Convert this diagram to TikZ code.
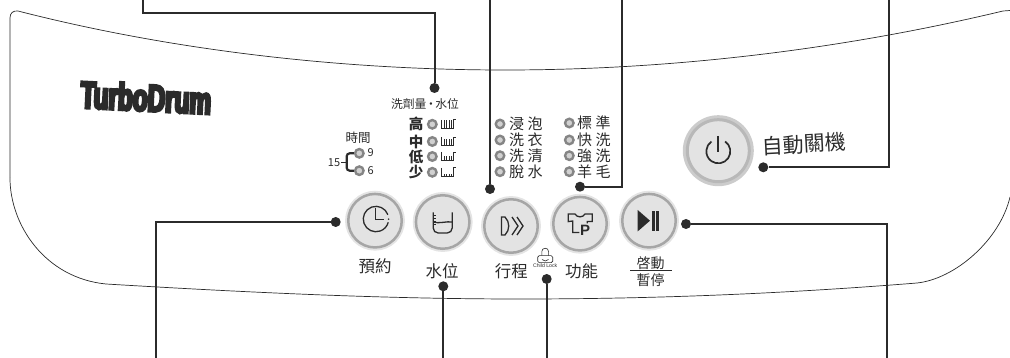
\documentclass[tikz,border=0pt]{standalone}
\usepackage{fontspec}
\usepackage{xcolor}
\usetikzlibrary{positioning}
\setmainfont{Noto Sans CJK TC}
\newfontfamily\logofont[FakeStretch=0.64,FakeBold=7]{Liberation Sans Bold}
\newfontfamily\latinfont{Liberation Sans}
\definecolor{inkgray}{HTML}{2B2B2B}
\definecolor{ringgray}{HTML}{A6A6A6}
\definecolor{glowgray}{HTML}{E4E4E4}
\definecolor{facegray}{HTML}{E3E3E3}
\newcommand{\fsz}[1]{\fontsize{#1}{#1}\selectfont}
\begin{document}
\begin{tikzpicture}[x=1pt,y=-1pt]

\tikzstyle{panel}=[draw=inkgray, line width=0.7pt]
\tikzstyle{lead}=[draw=inkgray, line width=2pt]
\tikzstyle{tipdot}=[circle, fill=inkgray, inner sep=0pt, minimum size=10pt]
\tikzstyle{btn}=[circle, inner sep=0pt, minimum size=53.5pt, outer sep=0pt, fill=facegray,
    draw=ringgray, line width=2.5pt, preaction={draw=glowgray, line width=6.4pt}]
\tikzstyle{btnpower}=[btn, minimum size=62pt, draw=black!28, line width=3pt,
    preaction={draw=black!20, line width=9pt}]
\tikzstyle{led}=[circle, inner sep=0pt, minimum size=8.5pt, draw=black!48, fill=black!18, line width=2.4pt]
\tikzstyle{icon}=[draw=inkgray, line width=1.3pt]
\tikzstyle{tiny}=[draw=inkgray, line width=0.6pt]
\tikzstyle{lab}=[inner sep=0pt, text=inkgray, font=\fsz{16.5}]
\tikzstyle{rowlab}=[inner sep=0pt, anchor=west, text=inkgray, font=\fsz{15}]

\useasboundingbox (0,0) rectangle (1010,358);

\draw[panel] (10,178) -- (10,18) .. controls (10,13) and (13,10.5) .. (18,11)
    .. controls (170,50) and (340,70) .. (505,70)
    .. controls (670,70) and (840,50) .. (1003,11) -- (1010,10.5);
\draw[panel] (1010,197) .. controls (1000,240) and (955,279) .. (917,283)
    .. controls (780,294) and (650,299) .. (520,299)
    .. controls (380,299) and (240,292) .. (106,284)
    .. controls (45,278) and (10,225) .. (10,178);

\node[anchor=center, rotate=-2.8, inner sep=0pt, text=inkgray, font=\logofont\fsz{38}] (logo) at (146,97.5) {TurboDrum};

% leader lines
\node[tipdot] (dotdeter) at (434.5,88) {};
\node[tipdot] (dotcourse) at (490,189) {};
\node[tipdot] (dotfunc) at (580,186.7) {};
\node[tipdot] (dotpower) at (763.3,167.3) {};
\node[tipdot] (dottimer) at (335.7,222) {};
\node[tipdot] (dotlevel) at (443.3,286.3) {};
\node[tipdot] (dotlock) at (546.7,279) {};
\node[tipdot] (dotstart) at (686,224) {};

\coordinate (turndeter) at (143,13);
\coordinate (enddeter) at (143,-2);
\coordinate (endcourse) at (490,-2);
\coordinate (endfunc) at (621.7,-2);
\coordinate (endpower) at (889.3,-2);
\coordinate (endtimer) at (156,360);
\coordinate (endlevel) at (443.3,360);
\coordinate (endlock) at (546.7,360);
\coordinate (endstart) at (887.3,360);

\draw[lead] (dotdeter) |- (turndeter) -- (enddeter);
\draw[lead] (dotcourse) -- (endcourse);
\draw[lead] (dotfunc) -| (endfunc);
\draw[lead] (dotpower) -| (endpower);
\draw[lead] (dottimer) -| (endtimer);
\draw[lead] (dotlevel) -- (endlevel);
\draw[lead] (dotlock) -- (endlock);
\draw[lead] (dotstart) -| (endstart);

% buttons
\node[btn] (timer) at (375,220.7) {};
\node[btn] (level) at (442.7,222) {};
\node[btn] (course) at (511,226) {};
\node[btn] (func) at (580,223.7) {};
\node[btn] (start) at (649,220.7) {};
\node[btnpower] (power) at (718.3,150.7) {};

\draw[icon,shift={(376,219)}] (11.9,-4.3) arc (-20:-345:12.7);
\draw[icon,shift={(376,219)}] (-0.5,-11) -- (-0.5,0.2) -- (8,0.2);
\fill[inkgray,shift={(376,219)}] (12.6,0.2) circle (0.9pt);

\draw[icon,rounded corners=5pt,shift={(442.7,222)}] (-9.5,-9.5) -- (-9.5,11) -- (9.5,11) -- (9.5,-9.5);
\draw[icon,shift={(442.7,222)}] (-9.5,0) .. controls (-4,2) and (4,-1) .. (9.5,0);
\foreach \ty in {-7,-4,-1,2} \draw[tiny,shift={(442.7,222)}] (-9.5,\ty) -- (-7,\ty);

\draw[icon,shift={(511,226)}] (-9.5,-9) -- (-6,-9) .. controls (-1,-4) and (-1,4) .. (-6,9) -- (-9.5,9) -- cycle;
\draw[icon,shift={(511,226)}] (1,-9) -- (7,0) -- (1,9);
\draw[icon,shift={(511,226)}] (6,-9) -- (12,0) -- (6,9);

\draw[icon,shift={(580,224.3)}] (-0.7,8.3) -- (-7.3,8.3) -- (-7.3,-3.3) -- (-11.7,-2.7) -- (-11.7,-10.3) -- (-5,-10.3)
    .. controls (-3,-6.5) and (3,-6.5) .. (5,-10.3) -- (12.3,-10.3) -- (12.3,-2.7) -- (7.3,-2.7) -- (7.3,-0.8);
\node[inner sep=0pt, text=inkgray, font=\latinfont\bfseries\fsz{15}] (shirtp) at (585,230.3) {P};

\fill[inkgray,shift={(649,220.7)}] (-11.3,-10.7) -- (1,0) -- (-11.3,10.7) -- cycle;
\fill[inkgray,shift={(649,220.7)}] (3,-10) rectangle (5.5,10);
\fill[inkgray,shift={(649,220.7)}] (7.3,-10) rectangle (10,10);

\draw[icon,line width=1.7pt,shift={(718.3,151.3)}] (6.9,-9.8) arc (-55:235:12);
\draw[icon,line width=1.7pt] (718.3,136) -- (718.3,151.7);

% child lock
\draw[tiny,rounded corners=1.5pt] (537.7,255.7) rectangle (552.7,262.7);
\draw[tiny] (541.8,255.7) -- (541.8,251.5) .. controls (541.8,247.2) and (548.6,247.2) .. (548.6,251.5) -- (548.6,255.7);
\draw[tiny] (542,259.5) .. controls (544,261.5) and (546.5,261.5) .. (548.5,259.5);
\node[inner sep=0pt, text=inkgray, font=\latinfont\fsz{5.2}] (locklab) at (545.2,266) {Child Lock};

% labels
\node[lab] (timerlab) at (375,266) {預約};
\node[lab] (levellab) at (442,271) {水位};
\node[lab] (courselab) at (511.3,271.7) {行程};
\node[lab] (funclab) at (581.7,271) {功能};
\node[lab,font=\fsz{14}] (startlab) at (650.5,263.5) {啓動};
\node[lab,font=\fsz{14}] (pauselab) at (650.5,280) {暫停};
\draw[draw=inkgray, line width=1pt] (630,270.7) -- (671.7,270.7);
\node[lab,rotate=3,font=\fsz{21}] (powerlab) at (804,144) {自動關機};

\node[lab,font=\fsz{11.8}] (deterlab) at (425,104) {洗劑量\hspace{-1.5pt}·\hspace{-1.5pt}水位};
\node[lab,font=\fsz{12.5}] (timelab) at (358,137.7) {時間};

% indicator rows
\foreach \i/\ty/\txt/\h in {a/124.3/高/8,b/141.5/中/6,c/156.5/低/4,d/172.3/少/1.5}{
  \node[lab,font=\bfseries\fsz{14.5}] (lv\i) at (416,\ty) {\txt};
  \node[led] (ledl\i) at (432.3,\ty) {};
  \draw[tiny] (441.7,\ty-4.5) -- (441.7,\ty+4) -- (453,\ty+4) -- (453,\ty-4.5);
  \draw[tiny] (453,\ty-4.5) -- (456,\ty-4.5);
  \foreach \tx in {444,446.5,449,451}
    \draw[tiny] (\tx,\ty+3.5) -- (\tx,\ty+3.5-\h);
}
\foreach \i/\ty/\txt in {a/124/浸 泡,b/140/洗 衣,c/155.7/洗 清,d/171.7/脫 水}{
  \node[led] (ledc\i) at (500,\ty) {};
  \node[rowlab] (rowc\i) at (509,\ty) {\txt};
}
\foreach \i/\ty/\txt in {a/123/標 準,b/140/快 洗,c/155.7/強 洗,d/171.7/羊 毛}{
  \node[led] (ledf\i) at (569.3,\ty) {};
  \node[rowlab] (rowf\i) at (577,\ty) {\txt};
}

\node[led] (ledtnine) at (359.3,153.3) {};
\node[led] (ledtsix) at (359.3,170.7) {};
\node[lab,font=\fsz{11}] (ninelab) at (370.7,153) {9};
\node[lab,font=\fsz{11}] (sixlab) at (370.7,171) {6};
\node[lab,font=\fsz{11}] (fifteenlab) at (334,162.3) {15};
\draw[draw=inkgray, line width=2.2pt, rounded corners=3pt] (ledtnine.west) -- (346.7,153.3) -- (346.7,170.7) -- (ledtsix.west);
\draw[draw=inkgray, line width=1.5pt] (fifteenlab.east) ++(1,0) -- (346.7,162.3);

\end{tikzpicture}
\end{document}
